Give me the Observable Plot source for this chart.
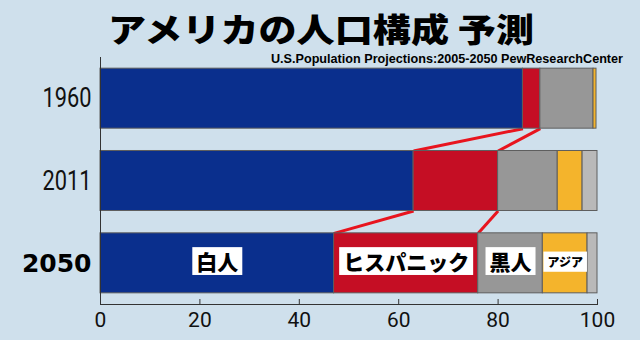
<!DOCTYPE html>
<html>
<head>
<meta charset="utf-8">
<script src="https://cdn.jsdelivr.net/npm/d3@7"></script>
<script src="https://cdn.jsdelivr.net/npm/@observablehq/plot@0.6"></script>
<style>
  html, body { margin: 0; padding: 0; background: #cfe0ec; }
  #chart { width: 640px; height: 340px; }
</style>
</head>
<body>
<div id="chart"></div>
<script>
// ---- data ----
const years = ["1960", "2011", "2050"];
const groups = ["白人", "ヒスパニック", "黒人", "アジア", "その他"];
const white = [85, 63, 47];
const hispanic = [3.5, 17, 29];
const black = [10.7, 12, 13];
const asian = [0.6, 5, 9];
const other = [0, 3, 2];
const labelledGroups = ["白人", "ヒスパニック", "黒人", "アジア"];
const xTicks = [0, 20, 40, 60, 80, 100];
const titleText = "アメリカの人口構成 予測";
const subtitleText = "U.S.Population Projections:2005-2050 PewResearchCenter";

// ---- styles ----
const colors = ["#0a2f8d", "#c50e24", "#979797", "#f4b42c", "#b9b9b9"];
const H = 0.3644; // half bar thickness (in year-index units)

// ---- build table ----
const series = [white, hispanic, black, asian, other];
const rows = [];
years.forEach((year, yi) => {
  let acc = 0;
  groups.forEach((g, gi) => {
    const v = series[gi][yi];
    rows.push({year, yi, group: g, x1: acc, x2: acc + v, mid: acc + v / 2, value: v});
    acc += v;
  });
});
const links = [];
for (let yi = 0; yi < years.length - 1; yi++) {
  for (const g of ["白人", "ヒスパニック"]) {
    const a = rows.find(r => r.yi === yi && r.group === g);
    const b = rows.find(r => r.yi === yi + 1 && r.group === g);
    links.push({x1: a.x2, yi1: yi, x2: b.x2, yi2: yi + 1});
  }
}
const lastYi = years.length - 1;
const labelRows = rows.filter(r => r.yi === lastYi && labelledGroups.includes(r.group));

const chart = Plot.plot({
  width: 640,
  height: 340,
  marginTop: 57,
  marginBottom: 36,
  marginLeft: 100,
  marginRight: 43,
  style: {background: "#cfe0ec", overflow: "visible"},
  x: {domain: [0, 100], label: null},
  y: {domain: [-0.5, 2.5], reverse: true, axis: null},
  color: {domain: groups, range: colors},
  marks: [
    Plot.link(links, {
      x1: "x1", x2: "x2",
      y1: d => d.yi1 + H, y2: d => d.yi2 - H,
      stroke: "#e8141e", strokeWidth: 3
    }),
    Plot.rectX(rows.filter(r => r.value > 0), {
      x1: "x1", x2: "x2",
      y1: d => d.yi - H, y2: d => d.yi + H,
      fill: "group", stroke: "#5e5e5e", strokeWidth: 1
    }),
    Plot.frame({anchor: "left", stroke: "#333"}),
    Plot.frame({anchor: "bottom", stroke: "#333"}),
    Plot.axisX(xTicks, {
      tickSize: -5, tickPadding: 13, fontSize: 21,
      fontFamily: "Roboto, sans-serif", label: null, stroke: "#333", fill: "#111"
    }),
    Plot.text(years, {
      filter: (d, i) => i < lastYi,
      x: 0, y: (d, i) => i, text: d => d, dx: -9,
      textAnchor: "end", fontSize: 27, fontWeight: 400,
      fontFamily: "Roboto, sans-serif",
      fill: "#111"
    }),
    Plot.text(years, {
      filter: (d, i) => i === lastYi,
      x: 0, y: (d, i) => i, text: d => d, dx: -9, dy: 1,
      textAnchor: "end", fontSize: 25, fontWeight: 900,
      fontFamily: "'DejaVu Sans', sans-serif",
      fill: "#000"
    }),
    Plot.text(labelRows, {
      x: "mid", y: "yi", text: "group",
      fontSize: d => d.group === "アジア" ? 12 : 21,
      fontWeight: 900, fontFamily: "'Noto Sans CJK JP', sans-serif",
      fill: "#000"
    })
  ]
});
document.getElementById("chart").appendChild(chart);

const svg = d3.select(chart);
const NS = "http://www.w3.org/2000/svg";

// white boxes behind segment labels; condensed year labels
svg.selectAll("text").each(function() {
  const content = this.textContent;
  if (labelledGroups.includes(content)) {
    const bb = this.getBBox();
    const fs = parseFloat(getComputedStyle(this).fontSize) || 21;
    const padX = 4;
    const h = fs * 0.85 + 10;
    const cy = bb.y + bb.height / 2;
    const r = document.createElementNS(NS, "rect");
    r.setAttribute("x", bb.x - padX);
    r.setAttribute("y", cy - h / 2);
    r.setAttribute("width", bb.width + 2 * padX);
    r.setAttribute("height", h);
    r.setAttribute("fill", "#fff");
    r.setAttribute("stroke", "none");
    const t = this.getAttribute("transform");
    if (t) r.setAttribute("transform", t);
    this.parentNode.insertBefore(r, this);
  } else if (years.slice(0, lastYi).includes(content)) {
    this.setAttribute("textLength", 49);
    this.setAttribute("lengthAdjust", "spacingAndGlyphs");
  }
});

// title & subtitle
svg.append("text")
  .text(titleText)
  .attr("x", 108).attr("y", 42).attr("text-anchor", "start")
  .attr("textLength", 426).attr("lengthAdjust", "spacingAndGlyphs")
  .attr("font-family", "'Noto Sans CJK JP', sans-serif")
  .attr("font-weight", 900).attr("font-size", 33).attr("fill", "#000");
svg.append("text")
  .text(subtitleText)
  .attr("x", 623).attr("y", 62.5).attr("text-anchor", "end")
  .attr("textLength", 352).attr("lengthAdjust", "spacingAndGlyphs")
  .attr("font-family", "'Liberation Sans', Arial, sans-serif")
  .attr("font-weight", 700).attr("font-size", 12).attr("fill", "#000");
</script>
</body>
</html>
